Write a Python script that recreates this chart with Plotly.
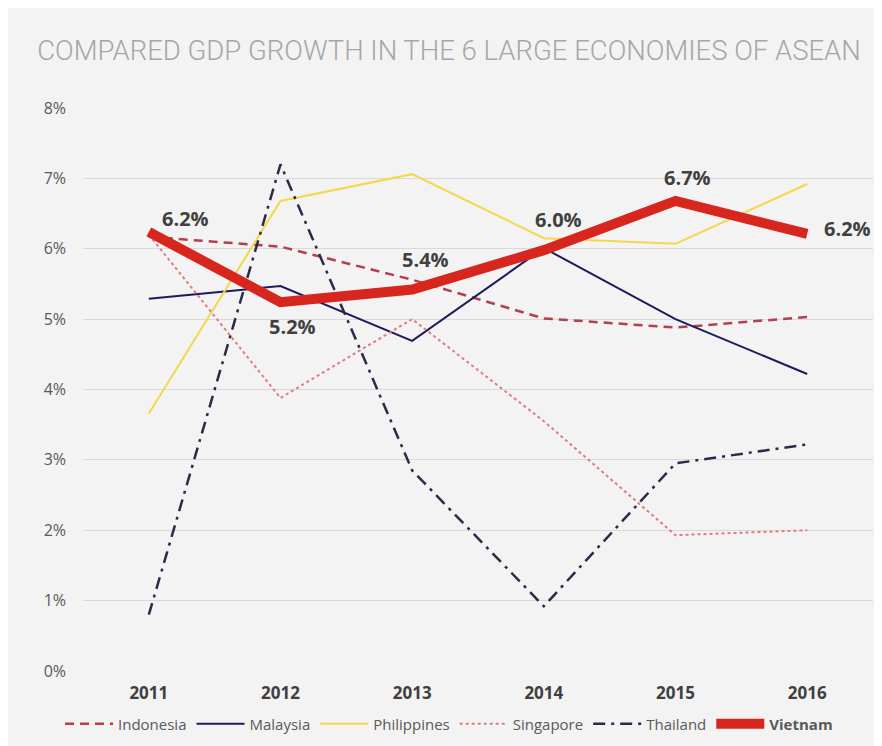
import plotly.graph_objects as go

years = ["2011", "2012", "2013", "2014", "2015", "2016"]
indonesia = [6.17, 6.03, 5.56, 5.01, 4.88, 5.03]
malaysia = [5.29, 5.47, 4.69, 6.01, 5.0, 4.22]
philippines = [3.66, 6.68, 7.06, 6.15, 6.07, 6.92]
singapore = [6.2, 3.88, 5.0, 3.55, 1.93, 2.0]
thailand = [0.8, 7.2, 2.85, 0.92, 2.95, 3.22]
vietnam = [6.24, 5.24, 5.42, 5.98, 6.68, 6.21]
y_ticks = [0, 1, 2, 3, 4, 5, 6, 7, 8]
y_tick_labels = [f"{v}%" for v in y_ticks]
title_text = "COMPARED GDP GROWTH IN THE 6 LARGE ECONOMIES OF ASEAN"

# label offsets (pixels) for the Vietnam value labels
label_dx = [37, 12, 13, 15, 12, 40]
label_dy = [13, -24, 30, 31, 23, 5]

series = [
    ("Indonesia", indonesia, "#b4404f", 2.5, "9px,6px"),
    ("Malaysia", malaysia, "#1c1c5c", 2, "solid"),
    ("Philippines", philippines, "#f2d84a", 2, "solid"),
    ("Singapore", singapore, "#e07c80", 2, "dot"),
    ("Thailand", thailand, "#2b2b48", 2.5, "12px,6px,3px,6px"),
]

fig = go.Figure()
for name, vals, color, width, dash in series:
    fig.add_trace(go.Scatter(
        x=years, y=vals, name=name, mode="lines",
        line=dict(color=color, width=width, dash=dash),
    ))

fig.add_trace(go.Scatter(
    x=years, y=vietnam, name="<b>Vietnam</b>", mode="lines",
    line=dict(color="#d7261e", width=10),
))

for i, (v, dx, dy) in enumerate(zip(vietnam, label_dx, label_dy)):
    fig.add_annotation(
        x=i, y=v, xref="x", yref="y", text=f"{v:.1f}%", showarrow=False,
        xanchor="center", yanchor="middle", xshift=dx, yshift=dy,
        font=dict(family="Open Sans", size=20, color="#404040", weight="bold"),
    )

fig.update_layout(
    width=882, height=746,
    margin=dict(l=75, r=17, t=100, b=83, autoexpand=False),
    paper_bgcolor="#f3f3f3",
    plot_bgcolor="#f3f3f3",
    title=dict(
        text=title_text,
        x=0.5, xanchor="center", xref="container",
        y=1 - 42 / 746, yanchor="middle", yref="container",
        font=dict(family="Roboto", size=27.5, color="#a6a6a6", weight=300),
    ),
    xaxis=dict(
        type="category", range=[-0.5, 5.5],
        showgrid=False, zeroline=False, showline=False,
        ticks="", ticklabelstandoff=10,
        tickfont=dict(family="Open Sans", size=17, color="#404040", weight="bold"),
    ),
    yaxis=dict(
        range=[0, 8],
        tickvals=y_ticks, ticktext=y_tick_labels,
        showgrid=True, gridcolor="#d9d9d9", gridwidth=1,
        zeroline=False, showline=False, ticks="",
        ticklabelstandoff=16,
        tickfont=dict(family="Open Sans", size=16, color="#595959"),
    ),
    legend=dict(
        orientation="h",
        x=0.5, xanchor="center", xref="container",
        y=-53 / 563, yanchor="middle",
        font=dict(family="Open Sans", size=15, color="#595959"),
        bgcolor="rgba(0,0,0,0)",
        itemwidth=48,
        tracegroupgap=0,
    ),
    showlegend=True,
)

fig.write_html("out.html")
